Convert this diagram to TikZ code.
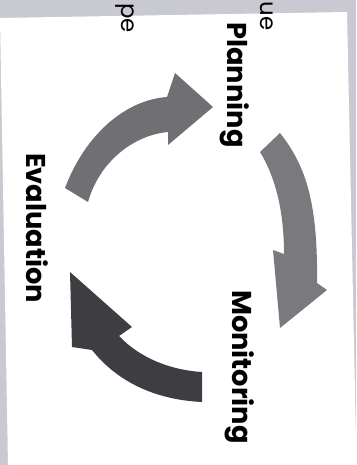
\documentclass[tikz,border=0pt]{standalone}
\usepackage{fontspec}
\setmainfont{Poppins}
\usepackage{xcolor}
\definecolor{paper}{HTML}{C9C9D1}
\definecolor{arrowmid}{HTML}{707074}
\definecolor{arrowlight}{HTML}{7A7A7E}
\definecolor{arrowdark}{HTML}{3E3E42}
\usetikzlibrary{positioning}

\begin{document}
\begin{tikzpicture}[x=0.02cm, y=-0.02cm,
  steplabel/.style={font=\bfseries\fontsize{15.5}{18}\selectfont, rotate=-90, inner sep=0pt},
  cutword/.style={font=\fontsize{13}{15}\selectfont, rotate=-90, inner sep=0pt, anchor=base}]
  % --- photo of the page ---
  \useasboundingbox (0,0) rectangle (356,465);
  \clip (0,0) rectangle (356,465);
  \fill[paper] (0,0) rectangle (356,465);
  \fill[white] (0,18) -- (347,12) -- (356,440) -- (356,465) -- (8,465) -- cycle;

  % words of the line above, at the page's edge
  \node[cutword] (cutA) at (260,16) {ue};
  \node[cutword] (cutB) at (121,18) {pe};

  % --- step labels ---
  \node[steplabel] (plan) at (235,85) {Planning};
  \node[steplabel] (moni) at (240,367) {Monitoring};
  \node[steplabel] (eval) at (37,228) {Evaluation};

  % --- cycle arrows ---
  % Evaluation -> Planning
  \fill[arrowmid] (65,188) .. controls (85,135) and (125,100) .. (167,97)
    -- (175,73) -- (213,107) -- (168,145) -- (168,132)
    .. controls (135,135) and (100,160) .. (88,202) -- cycle;

  % Planning -> Monitoring
  \fill[arrowlight] (260,152) -- (280,133) .. controls (305,165) and (318,200) .. (317,283)
    -- (327,290) -- (280,328) -- (273,250) -- (284,254)
    .. controls (284,215) and (277,180) .. (260,152) -- cycle;

  % Monitoring -> Evaluation
  \fill[arrowdark] (70,272) -- (132,327) -- (119,336)
    .. controls (140,358) and (170,370) .. (202,372) -- (202,402)
    .. controls (160,400) and (120,385) .. (92,350) -- (72,347) -- cycle;
\end{tikzpicture}
\end{document}
